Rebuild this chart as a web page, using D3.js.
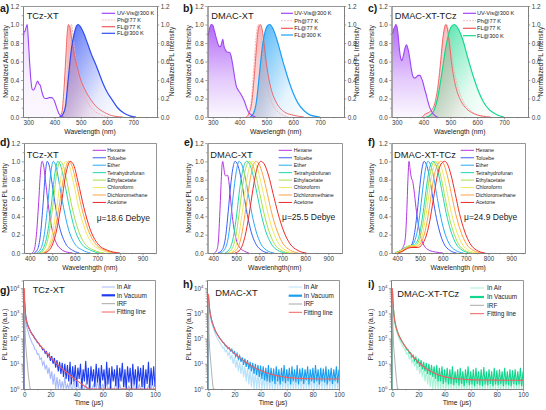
<!DOCTYPE html>
<html>
<head>
<meta charset="utf-8">
<script src="https://cdn.jsdelivr.net/npm/d3@7"></script>
<style>
  body { margin: 0; background: #fff; }
</style>
</head>
<body>
<script>
const FONT = '"Liberation Sans", Arial, Helvetica, sans-serif';
const AXIS = '#7a7a7a', TICK = '#3a3a3a', INK = '#1a1a1a';

// ---------- row 1: absorption / emission spectra ([nm, normalized])
const specTicks = [300, 400, 500, 600, 700];
const specMinor = [350, 450, 550, 650, 750];
const normTicks = [0, 0.2, 0.4, 0.6, 0.8, 1.0, 1.2];
const normMinor = [0.1, 0.3, 0.5, 0.7, 0.9, 1.1];
const specLegend = ['UV-Vis@300 K', 'Ph@77 K', 'FL@77 K', 'FL@300 K'];

const uvA = [[280,0.78],[284,0.92],[288,0.93],[292,0.97],[296,1.0],[300,0.85],[305,0.6],[310,0.4],[315,0.3],[320,0.29],[326,0.32],[332,0.37],[336,0.39],[340,0.36],[346,0.34],[352,0.27],[358,0.22],[364,0.2],[372,0.2],[380,0.21],[388,0.21],[394,0.2],[400,0.17],[406,0.12],[412,0.07],[418,0.03],[425,0.01],[435,0]];
const phA = [[430,0],[440,0.1],[448,0.45],[455,0.82],[461,0.98],[464,1.0],[470,0.9],[478,0.7],[488,0.5],[500,0.34],[515,0.22],[530,0.14],[550,0.07],[580,0.02],[610,0]];
const fl77A = [[418,0],[428,0.05],[436,0.3],[443,0.65],[448,0.9],[453,1.0],[458,0.97],[465,0.85],[475,0.68],[488,0.52],[500,0.4],[515,0.3],[535,0.2],[560,0.11],[590,0.05],[625,0.01],[660,0]];
const fl300A = [[420,0],[432,0.03],[442,0.12],[450,0.35],[457,0.55],[465,0.75],[475,0.9],[483,0.98],[490,1.0],[500,0.97],[512,0.9],[525,0.8],[540,0.68],[555,0.58],[570,0.47],[585,0.36],[600,0.27],[618,0.19],[640,0.1],[665,0.04],[690,0.01],[710,0]];

const uvB = [[282,0.88],[288,0.96],[294,1.0],[300,0.99],[306,0.93],[314,0.84],[322,0.77],[328,0.76],[333,0.8],[337,0.84],[342,0.76],[348,0.72],[355,0.7],[362,0.7],[368,0.66],[375,0.55],[382,0.42],[388,0.33],[395,0.29],[402,0.26],[410,0.22],[418,0.17],[425,0.11],[432,0.06],[440,0.03],[450,0.01],[460,0]];
const phB = [[425,0],[435,0.05],[445,0.22],[452,0.5],[460,0.82],[466,0.97],[470,1.0],[476,0.95],[484,0.78],[492,0.55],[502,0.36],[515,0.2],[530,0.1],[550,0.04],[580,0]];
const fl77B = [[425,0],[435,0.04],[445,0.15],[455,0.45],[463,0.75],[470,0.95],[477,1.0],[484,0.95],[492,0.78],[500,0.58],[510,0.4],[522,0.26],[535,0.17],[550,0.1],[570,0.05],[600,0.02],[640,0]];
const fl300B = [[440,0],[452,0.04],[462,0.15],[470,0.35],[478,0.58],[486,0.78],[495,0.92],[505,0.99],[513,1.0],[522,0.97],[532,0.9],[545,0.78],[558,0.64],[572,0.5],[586,0.37],[600,0.26],[618,0.15],[640,0.07],[665,0.02],[700,0]];

const uvC = [[284,0.9],[288,0.95],[292,0.97],[296,1.0],[300,0.98],[305,0.88],[310,0.72],[315,0.63],[319,0.61],[324,0.66],[330,0.74],[336,0.78],[342,0.73],[348,0.64],[354,0.52],[360,0.44],[366,0.42],[372,0.43],[380,0.45],[386,0.45],[392,0.42],[398,0.37],[404,0.3],[410,0.24],[416,0.17],[422,0.11],[430,0.06],[440,0.02],[452,0]];
const phC = [[420,0],[435,0.05],[450,0.2],[462,0.5],[472,0.82],[480,0.97],[486,1.0],[492,0.95],[500,0.8],[510,0.58],[520,0.42],[533,0.28],[548,0.17],[568,0.09],[595,0.03],[630,0]];
const fl77C = [[395,0],[405,0.03],[420,0.05],[432,0.08],[442,0.15],[452,0.3],[462,0.55],[470,0.8],[477,0.95],[483,1.0],[489,0.95],[497,0.78],[506,0.55],[516,0.38],[528,0.25],[542,0.16],[560,0.09],[585,0.04],[620,0.01],[650,0]];
const fl300C = [[410,0],[425,0.02],[440,0.08],[452,0.2],[462,0.36],[472,0.55],[482,0.74],[492,0.88],[502,0.97],[515,1.0],[526,0.97],[538,0.9],[550,0.8],[562,0.67],[575,0.54],[590,0.4],[606,0.27],[624,0.16],[645,0.08],[670,0.03],[700,0]];

// ---------- row 2: solvatochromic PL ([nm, normalized])
const solvTicks = [400, 500, 600, 700, 800, 900];
const solvMinor = [450, 550, 650, 750, 850, 950];
const solvents = ['Hexane', 'Toluebe', 'Ether', 'Tetrahydrofuran', 'Ethylacetate', 'Chloroform', 'Dichloromethane', 'Acetone'];
const solvColors = ['#b535e0', '#3b5cf7', '#2aa8f8', '#1fd6b0', '#a8e04a', '#efe85a', '#ffa040', '#f02828'];
const dipoles = ['μ=18.6 Debye', 'μ=25.5 Debye', 'μ=24.9 Debye'];

const hexD = [[410,0],[420,0.03],[430,0.2],[440,0.55],[448,0.88],[455,1.0],[462,0.95],[472,0.75],[485,0.48],[500,0.25],[520,0.1],[540,0.04],[565,0.01],[590,0]];
const tolD = [[420,0],[435,0.04],[448,0.2],[460,0.55],[470,0.88],[478,1.0],[487,0.95],[500,0.75],[515,0.5],[535,0.26],[560,0.1],[590,0.03],[620,0]];
const ethD = [[430,0],[450,0.05],[465,0.2],[480,0.52],[494,0.88],[505,1.0],[516,0.95],[532,0.75],[550,0.5],[572,0.26],[600,0.1],[635,0.03],[670,0]];
const thfD = [[440,0],[460,0.05],[478,0.2],[495,0.5],[512,0.87],[525,1.0],[538,0.95],[556,0.75],[576,0.5],[600,0.26],[630,0.1],[670,0.03],[710,0]];
const eaD = [[445,0],[465,0.04],[485,0.2],[502,0.5],[520,0.87],[535,1.0],[548,0.96],[566,0.77],[588,0.5],[614,0.26],[645,0.1],[685,0.03],[730,0]];
const chlD = [[455,0],[480,0.05],[500,0.2],[520,0.5],[543,0.88],[560,1.0],[574,0.96],[594,0.77],[617,0.5],[645,0.26],[678,0.1],[720,0.03],[765,0]];
const dcmD = [[460,0],[485,0.05],[508,0.2],[530,0.5],[555,0.88],[572,1.0],[586,0.96],[606,0.77],[630,0.5],[658,0.26],[692,0.1],[735,0.03],[780,0]];
const aceD = [[465,0],[490,0.04],[515,0.2],[538,0.5],[562,0.88],[580,1.0],[595,0.96],[615,0.77],[640,0.5],[668,0.26],[702,0.1],[745,0.03],[800,0]];

const hexE = [[405,0],[415,0.03],[422,0.12],[428,0.4],[434,0.75],[438,0.95],[441,1.0],[445,0.95],[450,0.86],[455,0.84],[462,0.85],[468,0.78],[475,0.6],[483,0.4],[492,0.24],[503,0.12],[518,0.05],[535,0.02],[555,0]];
const tolE = [[420,0],[440,0.04],[455,0.2],[465,0.45],[475,0.72],[485,0.92],[495,1.0],[505,0.97],[518,0.85],[532,0.65],[548,0.42],[565,0.23],[585,0.1],[610,0.03],[640,0]];
const ethE = [[430,0],[450,0.04],[466,0.18],[478,0.42],[490,0.7],[501,0.9],[512,1.0],[523,0.97],[537,0.85],[552,0.65],[568,0.43],[586,0.24],[607,0.1],[632,0.03],[665,0]];
const thfE = [[450,0],[470,0.04],[488,0.18],[502,0.42],[515,0.7],[530,0.92],[545,1.0],[558,0.97],[573,0.85],[590,0.65],[608,0.43],[628,0.24],[652,0.1],[680,0.03],[715,0]];
const eaE = [[460,0],[480,0.04],[498,0.18],[512,0.42],[526,0.7],[541,0.92],[556,1.0],[569,0.97],[585,0.85],[602,0.65],[621,0.43],[642,0.24],[666,0.1],[695,0.03],[730,0]];
const chlE = [[470,0],[492,0.04],[510,0.18],[525,0.42],[540,0.7],[555,0.92],[570,1.0],[584,0.97],[600,0.85],[618,0.65],[638,0.43],[660,0.24],[685,0.1],[715,0.03],[750,0]];
const dcmE = [[480,0],[503,0.04],[522,0.18],[538,0.42],[554,0.7],[570,0.92],[585,1.0],[599,0.97],[616,0.85],[635,0.65],[655,0.43],[678,0.24],[704,0.1],[735,0.03],[770,0]];
const aceE = [[495,0],[518,0.04],[538,0.18],[556,0.42],[573,0.7],[590,0.92],[607,1.0],[622,0.97],[640,0.85],[660,0.65],[682,0.43],[706,0.24],[734,0.1],[766,0.03],[805,0]];

const hexF = [[395,0],[410,0.02],[425,0.06],[435,0.15],[442,0.45],[447,0.8],[452,1.0],[456,0.92],[462,0.82],[468,0.78],[474,0.68],[482,0.5],[492,0.32],[503,0.18],[518,0.08],[540,0.03],[570,0.01],[600,0]];
const tolF = [[390,0],[410,0.02],[430,0.05],[450,0.07],[465,0.1],[478,0.25],[490,0.5],[500,0.75],[510,0.94],[518,1.0],[527,0.97],[540,0.85],[553,0.65],[568,0.43],[585,0.24],[605,0.1],[630,0.03],[660,0]];
const ethF = [[390,0],[410,0.02],[430,0.05],[452,0.07],[470,0.1],[488,0.24],[502,0.48],[514,0.74],[525,0.93],[535,1.0],[545,0.97],[558,0.85],[572,0.65],[588,0.43],[606,0.24],[628,0.1],[655,0.03],[690,0]];
const thfF = [[390,0],[410,0.02],[430,0.05],[455,0.08],[475,0.09],[495,0.18],[510,0.38],[523,0.62],[536,0.85],[547,0.97],[557,1.0],[568,0.97],[582,0.85],[598,0.65],[615,0.43],[635,0.24],[658,0.1],[685,0.03],[720,0]];
const eaF = [[390,0],[410,0.02],[430,0.05],[455,0.08],[478,0.08],[500,0.17],[516,0.37],[530,0.62],[543,0.85],[555,0.97],[565,1.0],[576,0.97],[590,0.85],[606,0.65],[624,0.43],[645,0.24],[668,0.1],[695,0.03],[730,0]];
const chlF = [[395,0],[415,0.02],[435,0.05],[458,0.08],[482,0.08],[505,0.15],[522,0.35],[537,0.6],[551,0.84],[565,0.97],[577,1.0],[588,0.97],[603,0.85],[620,0.65],[638,0.43],[660,0.24],[684,0.1],[712,0.03],[750,0]];
const dcmF = [[400,0],[420,0.02],[440,0.05],[462,0.07],[485,0.07],[510,0.14],[530,0.33],[546,0.58],[561,0.83],[578,0.97],[592,1.0],[604,0.97],[619,0.85],[637,0.65],[656,0.43],[678,0.24],[703,0.1],[732,0.03],[770,0]];
const aceF = [[405,0],[425,0.02],[445,0.05],[465,0.06],[490,0.06],[520,0.14],[542,0.34],[558,0.58],[574,0.82],[592,0.97],[608,1.0],[620,0.97],[636,0.85],[654,0.65],[673,0.43],[695,0.24],[720,0.1],[748,0.03],[785,0]];

// ---------- row 3: transient decay (time in us, counts)
const timeTicks = [0, 20, 40, 60, 80, 100];
const timeMinor = [10, 30, 50, 70, 90];
const decayTicks = [1, 10, 100, 1000, 10000];
const decayLegend = ['In Air', 'In Vacuum', 'IRF', 'Fitting line'];

const decayT = [0, 0.2, 0.5, 1, 1.5, 2,
  3, 4, 5, 6, 7, 8, 9, 10,
  11, 12, 13, 14, 15, 16, 17, 18, 19, 20,
  21, 22, 23, 24, 25, 26, 27, 28, 29, 30,
  31, 32, 33, 34, 35, 36, 37, 38, 39, 40,
  41, 42, 43, 44, 45, 46, 47, 48, 49, 50,
  51, 52, 53, 54, 55, 56, 57, 58, 59, 60,
  61, 62, 63, 64, 65, 66, 67, 68, 69, 70,
  71, 72, 73, 74, 75, 76, 77, 78, 79, 80,
  81, 82, 83, 84, 85, 86, 87, 88, 89, 90,
  91, 92, 93, 94, 95, 96, 97, 98, 99, 100];

const vacG = [1, 3000, 1800, 850, 560, 430,
  300, 235, 180, 150, 128, 100, 90, 70,
  66, 50, 48, 36, 38, 26, 30, 19, 25, 13,
  20, 10, 17, 7, 14, 5, 12, 4, 11, 3,
  10, 2.5, 9, 2, 12, 1.5, 8, 2, 9, 1.2,
  7, 2.5, 10, 1, 6, 2, 13, 1.5, 7, 1,
  8, 2, 6, 1.2, 10, 1.8, 7, 1, 9, 2.2,
  6, 1, 12, 1.5, 7, 1, 8, 2, 6, 1.3,
  9, 1, 7, 2, 11, 1.2, 6, 1, 8, 1.8,
  7, 1, 10, 1.5, 6, 1, 8, 2, 7, 1.2,
  9, 1, 6, 1.6, 12, 1, 7, 1.4, 8, 1.2];
const airG = [1, 2500, 1300, 600, 380, 280,
  180, 120, 90, 65, 55, 38, 35, 24,
  25, 15, 17, 9, 12, 6, 9, 4, 7, 2.5,
  5, 1.5, 4, 1, 3, 1, 2.5, 1, 2, 1,
  3, 1, 1.5, 1, 2, 1, 1, 2.5, 1, 1,
  1.8, 1, 1, 2, 1, 1, 1.5, 1, 1, 2,
  1, 1, 1.5, 1, 1, 2.2, 1, 1, 1, 1.6,
  1, 1, 2, 1, 1, 1.4, 1, 1, 1, 2,
  1, 1, 1.5, 1, 1, 1, 2.5, 1, 1, 1.3,
  1, 1, 1, 1.8, 1, 1, 1, 1.5, 1, 1,
  2, 1, 1, 1, 1.4, 1, 1, 1.8, 1, 1];

const vacH = [1, 5000, 2800, 1500, 1000, 700,
  440, 310, 230, 175, 145, 120, 100, 88,
  72, 66, 52, 50, 40, 44, 32, 38, 26, 30,
  19, 26, 15, 21, 12, 18, 9, 16, 7.5, 14,
  6, 12, 5, 11, 4, 10, 3.5, 9, 3, 8.5,
  2.5, 8, 2.2, 7, 2, 9, 1.8, 7, 2, 6.5,
  1.6, 8, 2, 6, 1.5, 7, 2, 9, 1.7, 6,
  2, 7, 1.5, 8, 2, 6, 1.8, 9, 1.5, 6.5,
  2, 7, 1.6, 6, 2.2, 8, 1.5, 6, 2, 7,
  1.7, 9, 2, 6, 1.5, 7, 2, 6.5, 1.8, 8,
  1.5, 6, 2, 7, 1.6, 6, 2, 8, 1.7, 6];
const airH = [1, 4500, 2400, 1200, 800, 560,
  340, 240, 170, 130, 100, 82, 66, 56,
  42, 44, 30, 34, 22, 28, 15, 22, 10, 18,
  7, 14, 5, 12, 4, 10, 3, 8, 2, 7,
  1.5, 6, 1.2, 5, 1, 5, 1, 4, 1, 4.5,
  1, 3, 1, 4, 1, 3.5, 1, 3, 1, 4,
  1, 2.5, 1, 3.5, 1, 3, 1, 4, 1, 2.5,
  1, 3, 1, 3.5, 1, 2.5, 1, 4, 1, 3,
  1, 2.5, 1, 3.5, 1, 3, 1, 2.5, 1, 4,
  1, 3, 1, 2.5, 1, 3.5, 1, 3, 1, 2.5,
  1, 3.5, 1, 3, 1, 2.5, 1, 3, 1, 2.5];

const vacI = [1, 8000, 3200, 1300, 720, 460,
  270, 185, 135, 105, 82, 68, 55, 48,
  36, 36, 26, 28, 18, 22, 13, 18, 10, 16,
  7.5, 14, 6, 12, 5, 11, 4, 10, 3.5, 9,
  3, 8, 2.5, 9, 2, 7, 2, 8, 1.6, 6,
  1.8, 7, 1.5, 6, 1.6, 8, 1.4, 5, 1.7, 6,
  1.4, 7, 1.6, 5, 1.3, 6, 1.7, 8, 1.4, 5,
  1.5, 6, 1.3, 7, 1.6, 5, 1.4, 6, 1.3, 7.5,
  1.5, 5, 1.4, 6, 1.6, 5, 1.3, 7, 1.5, 5.5,
  1.4, 6, 1.6, 5, 1.3, 7, 1.5, 5, 1.4, 6,
  1.3, 5.5, 1.6, 6, 1.4, 5, 1.5, 7, 1.3, 5];
const airI = [1, 7000, 2800, 1100, 600, 380,
  220, 150, 105, 80, 62, 50, 40, 34,
  24, 26, 16, 20, 11, 15, 8, 12, 5.5, 10,
  4, 8, 3, 7, 2, 6, 1.5, 5, 1.2, 4.5,
  1, 4, 1, 3.5, 1, 4, 1, 3, 1, 3.5,
  1, 2.5, 1, 3, 1, 2.5, 1, 3.5, 1, 2.5,
  1, 3, 1, 2.5, 1, 3.5, 1, 2.5, 1, 3,
  1, 2.5, 1, 3, 1, 2.5, 1, 3.5, 1, 2.5,
  1, 3, 1, 2.5, 1, 3, 1, 2.5, 1, 3.5,
  1, 2.5, 1, 3, 1, 2.5, 1, 3, 1, 2.5,
  1, 3, 1, 2.5, 1, 3.5, 1, 2.5, 1, 3];

const irfT = [0, 0.2, 0.5, 1, 1.5, 2, 2.5, 3, 3.5, 4, 4.5, 5];
const irfG = [1, 8000, 400, 60, 30, 15, 8, 4, 2.5, 1.5, 1, 1];
const irfH = [1, 3000, 150, 40, 20, 10, 5, 2.5, 1.3, 1, 1, 1];
const irfI = [1, 6000, 300, 50, 25, 12, 6, 3, 1.6, 1, 1, 1];

const fitT = [0, 0.2, 0.5, 1, 1.5, 2, 3, 4, 5, 6, 8, 10, 12, 15, 18, 20, 25, 30, 35, 40, 45, 50, 55, 60, 70, 80, 90, 100];
const fitG = [10000, 3500, 1500, 800, 560, 430, 300, 230, 180, 148, 105, 75, 55, 36, 24, 18, 10, 5.8, 3.5, 2.2, 1.45, 1.0, 0.72, 0.5, 0.3, 0.2, 0.15, 0.1];
const fitH = [6000, 4200, 2600, 1450, 980, 720, 440, 310, 230, 176, 118, 85, 64, 44, 32, 26, 16, 10.5, 7.2, 5.4, 4.3, 3.6, 3.2, 2.9, 2.65, 2.55, 2.5, 2.5];
const fitI = [10000, 5000, 2700, 1250, 720, 470, 270, 185, 135, 105, 70, 48, 35, 22, 14.5, 11.5, 7, 4.8, 3.7, 3.1, 2.75, 2.55, 2.42, 2.35, 2.28, 2.24, 2.22, 2.2];

// ---------------------------------------------------------------
const svg = d3.select('body').append('svg')
    .attr('width', 546)
    .attr('height', 410)
    .style('font-family', FONT);
const defs = svg.append('defs');

function addGrad(id, color, x2, y2, stops) {
  const gr = defs.append('linearGradient').attr('id', id)
      .attr('x1', 0).attr('y1', 0).attr('x2', x2).attr('y2', y2);
  stops.forEach(s => {
    gr.append('stop').attr('offset', s[0]).attr('stop-color', color).attr('stop-opacity', s[1]);
  });
}

function addClip(id, x, y) {
  const r = y.range();
  defs.append('clipPath').attr('id', id).append('rect')
      .attr('x', x.range()[0]).attr('y', r[1])
      .attr('width', x.range()[1] - x.range()[0])
      .attr('height', r[0] - r[1]);
}

function styleAxis(sel, fs) {
  sel.attr('font-family', FONT).attr('font-size', fs);
  sel.select('.domain').attr('stroke', AXIS).attr('stroke-width', 0.8);
  sel.selectAll('.tick line').attr('stroke', AXIS).attr('stroke-width', 0.7);
  sel.selectAll('.tick text').attr('fill', TICK);
}

function label(x, y, txt, size, opts = {}) {
  const t = svg.append('text')
      .attr('x', x).attr('y', y)
      .attr('font-size', size)
      .attr('fill', opts.fill || INK)
      .attr('text-anchor', opts.anchor || 'start')
      .text(txt);
  if (opts.bold) t.attr('font-weight', 'bold');
  if (opts.rotate) t.attr('transform', `rotate(${opts.rotate},${x},${y})`);
  return t;
}

function drawFrame(x, y, o) {
  const g = svg.append('g');
  const [x0, x1] = x.range();
  const [yb, yt] = y.range();

  g.append('g').attr('transform', `translate(0,${yb})`)
      .call(d3.axisBottom(x).tickValues(o.xMinor).tickSize(1.3).tickSizeOuter(0).tickFormat(''))
      .call(s => styleAxis(s, 6.3));
  g.append('g').attr('transform', `translate(0,${yb})`)
      .call(d3.axisBottom(x).tickValues(o.xTicks).tickSize(2.2).tickSizeOuter(0).tickPadding(1.5))
      .call(s => styleAxis(s, 6.3));

  g.append('g').attr('transform', `translate(${x0},0)`)
      .call(d3.axisLeft(y).tickValues(o.yMinor).tickSize(1.3).tickSizeOuter(0).tickFormat(''))
      .call(s => styleAxis(s, 6.3));
  const left = g.append('g').attr('transform', `translate(${x0},0)`)
      .call(d3.axisLeft(y).tickValues(o.yTicks).tickSize(2.2).tickSizeOuter(0).tickPadding(1.5).tickFormat(o.yFmt))
      .call(s => styleAxis(s, 6.3));
  if (o.sup) {
    left.selectAll('.tick text').each(function (d) {
      const t = d3.select(this);
      t.text('10');
      t.append('tspan').attr('dy', -2.6).attr('font-size', 4.3).text(Math.round(Math.log10(d)));
    });
  }

  g.append('g').attr('transform', `translate(0,${yt})`)
      .call(d3.axisTop(x).tickValues([]).tickSizeOuter(0))
      .call(s => styleAxis(s, 6.3));
  if (o.right) {
    g.append('g').attr('transform', `translate(${x1},0)`)
        .call(d3.axisRight(y).tickValues(o.yMinor).tickSize(1.3).tickSizeOuter(0).tickFormat(''))
        .call(s => styleAxis(s, 6.3));
    g.append('g').attr('transform', `translate(${x1},0)`)
        .call(d3.axisRight(y).tickValues(o.yTicks).tickSize(2.2).tickSizeOuter(0).tickPadding(1.5).tickFormat(o.yFmt))
        .call(s => styleAxis(s, 6.3));
  } else {
    g.append('g').attr('transform', `translate(${x1},0)`)
        .call(d3.axisRight(y).tickValues([]).tickSizeOuter(0))
        .call(s => styleAxis(s, 6.3));
  }

  const xc = (x0 + x1) / 2, yc = (yb + yt) / 2;
  label(xc, o.xTitleY, o.xTitle, 6.8, { anchor: 'middle' });
  label(o.yTitleX, yc, o.yTitle, 6.6, { anchor: 'middle', rotate: -90 });
  if (o.rTitle) label(o.rTitleX, yc, o.rTitle, 6.6, { anchor: 'middle', rotate: -90 });
}

// ---------- row 1
const specPanels = [
  { key: 'a', x0: 23, x1: 157, title: 'TCz-XT', tx: 26.7, lab: [0, 11.5], yT: 6, rT: 172,
    uv: uvA, ph: phA, fl77: fl77A, fl300: fl300A, c300: '#2e4df2', uvTop: 0.22,
    lg: { x0: 101.7, x1: 115, tx: 117, ys: [13.3, 20, 26.7, 33.3] } },
  { key: 'b', x0: 207.5, x1: 344, title: 'DMAC-XT', tx: 211.3, lab: [183, 11.5], yT: 189, rT: 357,
    uv: uvB, ph: phB, fl77: fl77B, fl300: fl300B, c300: '#1c9ff5', uvTop: 0.8,
    lg: { x0: 281, x1: 293, tx: 294.3, ys: [13.3, 20.7, 28.3, 35] } },
  { key: 'c', x0: 391.5, x1: 528, title: 'DMAC-XT-TCz', tx: 394.7, lab: [368, 11.5], yT: 372, rT: 540.7,
    uv: uvC, ph: phC, fl77: fl77C, fl300: fl300C, c300: '#14d98c', uvTop: 0.8,
    lg: { x0: 463, x1: 476, tx: 477, ys: [13.3, 20.7, 28.3, 35.7] } }
];

const UV = '#a045f5', PH = '#f6a9a9', FL77 = '#f25a5a';

specPanels.forEach(p => {
  const x = d3.scaleLinear().domain([280, 790]).range([p.x0, p.x1]);
  const y = d3.scaleLinear().domain([0, 1.2]).range([117, 6]);
  addClip('clip-' + p.key, x, y);
  addGrad('uv-' + p.key, UV, 0, 1, [[0, p.uvTop], [0.6, p.uvTop * 0.35], [1, 0.04]]);
  addGrad('ph-' + p.key, PH, 1, 0.7, [[0, 0.45], [0.4, 0.15], [1, 0]]);
  addGrad('f77-' + p.key, FL77, 1, 0.7, [[0, 0.55], [0.4, 0.2], [1, 0]]);
  addGrad('f300-' + p.key, p.c300, 1, 0.7, [[0, 0.9], [0.3, 0.55], [0.7, 0.12], [1, 0]]);

  const line = d3.line().x(d => x(d[0])).y(d => y(d[1])).curve(d3.curveMonotoneX);
  const area = d3.area().x(d => x(d[0])).y0(y(0)).y1(d => y(d[1])).curve(d3.curveMonotoneX);
  const g = svg.append('g').attr('clip-path', `url(#clip-${p.key})`);

  g.append('path').attr('d', area(p.uv)).attr('fill', `url(#uv-${p.key})`);
  g.append('path').attr('d', area(p.fl300)).attr('fill', `url(#f300-${p.key})`);
  g.append('path').attr('d', area(p.fl77)).attr('fill', `url(#f77-${p.key})`);
  g.append('path').attr('d', area(p.ph)).attr('fill', `url(#ph-${p.key})`);

  g.append('path').attr('d', line(p.ph)).attr('fill', 'none').attr('stroke', PH).attr('stroke-width', 0.8).attr('stroke-dasharray', '2,1');
  g.append('path').attr('d', line(p.fl77)).attr('fill', 'none').attr('stroke', FL77).attr('stroke-width', 0.9);
  g.append('path').attr('d', line(p.fl300)).attr('fill', 'none').attr('stroke', p.c300).attr('stroke-width', 1.2);
  g.append('path').attr('d', line(p.uv)).attr('fill', 'none').attr('stroke', UV).attr('stroke-width', 1.1);

  drawFrame(x, y, {
    xTicks: specTicks, xMinor: specMinor, yTicks: normTicks, yMinor: normMinor,
    yFmt: d3.format('.1f'), right: true,
    xTitle: 'Wavelength (nm)', xTitleY: 133.5,
    yTitle: 'Normalized Abs Intensity', yTitleX: p.yT + 2.3,
    rTitle: 'Normalized PL Intensity', rTitleX: p.rT + 2.3
  });

  const lcol = [UV, PH, FL77, p.c300];
  specLegend.forEach((name, i) => {
    const ly = p.lg.ys[i];
    svg.append('line').attr('x1', p.lg.x0).attr('x2', p.lg.x1).attr('y1', ly).attr('y2', ly)
        .attr('stroke', lcol[i]).attr('stroke-width', i === 1 ? 0.8 : 1.2)
        .attr('stroke-dasharray', i === 1 ? '2,1' : null);
    label(p.lg.tx, ly + 2, name, 5.6);
  });
  label(p.tx, 18.8, p.title, 9.3);
  label(p.lab[0], p.lab[1], p.key + ')', 10.5, { bold: true });
});

// ---------- row 2
const solvPanels = [
  { key: 'd', x0: 24, x1: 156, title: 'TCz-XT', tx: 26.7, lab: [0, 145.5], yT: 5, xt: 'Wavelenhgth (nm)',
    curves: [hexD, tolD, ethD, thfD, eaD, chlD, dcmD, aceD], mu: [96.7, 220.5],
    lg: { x0: 92.7, x1: 106, tx: 107.3 } },
  { key: 'e', x0: 207.5, x1: 342, title: 'DMAC-XT', tx: 210.3, lab: [184, 146], yT: 189, xt: 'Wavelenhgth(nm)',
    curves: [hexE, tolE, ethE, thfE, eaE, chlE, dcmE, aceE], mu: [282, 220],
    lg: { x0: 278.7, x1: 292, tx: 293.7 } },
  { key: 'f', x0: 391.5, x1: 525, title: 'DMAC-XT-TCz', tx: 394, lab: [368, 145.5], yT: 372, xt: 'Wavelenhgth (nm)',
    curves: [hexF, tolF, ethF, thfF, eaF, chlF, dcmF, aceF], mu: [464, 220],
    lg: { x0: 460.7, x1: 474, tx: 475.7 } }
];

solvPanels.forEach((p, pi) => {
  const x = d3.scaleLinear().domain([375, 960]).range([p.x0, p.x1]);
  const y = d3.scaleLinear().domain([0, 1.2]).range([253, 143]);
  addClip('clip-' + p.key, x, y);
  const line = d3.line().x(d => x(d[0])).y(d => y(d[1])).curve(d3.curveMonotoneX);
  const g = svg.append('g').attr('clip-path', `url(#clip-${p.key})`);
  p.curves.forEach((c, i) => {
    g.append('path').attr('d', line(c)).attr('fill', 'none')
        .attr('stroke', solvColors[i]).attr('stroke-width', 1.0);
  });
  drawFrame(x, y, {
    xTicks: solvTicks, xMinor: solvMinor, yTicks: normTicks, yMinor: normMinor,
    yFmt: d3.format('.1f'), right: false,
    xTitle: p.xt, xTitleY: 270,
    yTitle: 'Normalized PL Intensity', yTitleX: p.yT + 2.3
  });
  solvents.forEach((name, i) => {
    const ly = 150.3 + i * 7.45;
    svg.append('line').attr('x1', p.lg.x0).attr('x2', p.lg.x1).attr('y1', ly).attr('y2', ly)
        .attr('stroke', solvColors[i]).attr('stroke-width', 1.0);
    label(p.lg.tx, ly + 1.9, name, 5.3);
  });
  label(p.mu[0], p.mu[1], dipoles[pi], 8.5);
  label(p.tx, 157.7, p.title, 9.3);
  label(p.lab[0], p.lab[1], p.key + ')', 10.5, { bold: true });
});

// ---------- row 3
const decayPanels = [
  { key: 'g', x0: 23, x1: 155, title: 'TCz-XT', tx: 32.7, ty: 293, lab: [0, 294], yT: 5,
    vac: vacG, air: airG, irf: irfG, fit: fitG, cv: '#1e3cf0', ca: '#a9bafb',
    lg: { x0: 101.7, x1: 115, tx: 116.7, ys: [287, 295.3, 303.7, 312] } },
  { key: 'h', x0: 207, x1: 339, title: 'DMAC-XT', tx: 215.3, ty: 296, lab: [183, 287.5], yT: 189,
    vac: vacH, air: airH, irf: irfH, fit: fitH, cv: '#1a9ef0', ca: '#b6e2fb',
    lg: { x0: 288.7, x1: 302, tx: 303.7, ys: [287, 295.7, 304, 312.3] } },
  { key: 'i', x0: 391, x1: 523, title: 'DMAC-XT-TCz', tx: 397.3, ty: 297, lab: [368, 288], yT: 371,
    vac: vacI, air: airI, irf: irfI, fit: fitI, cv: '#12d68e', ca: '#a6f3d6',
    lg: { x0: 470, x1: 484, tx: 487, ys: [288, 297, 305.3, 313.7] } }
];
const IRF = '#a8a8a8', FIT = '#f06060';

decayPanels.forEach(p => {
  const x = d3.scaleLinear().domain([-1, 100]).range([p.x0, p.x1]);
  const y = d3.scaleLog().domain([1, 21000]).range([389, 280]).clamp(true);
  addClip('clip-' + p.key, x, y);
  const g = svg.append('g').attr('clip-path', `url(#clip-${p.key})`);
  const line = d3.line().x(d => x(d[0])).y(d => y(d[1]));
  const zip = (t, v) => t.slice(0, v.length).map((tt, i) => [tt, v[i]]);

  g.append('path').attr('d', line(zip(decayT, p.air))).attr('fill', 'none').attr('stroke', p.ca).attr('stroke-width', 1.1);
  g.append('path').attr('d', line(zip(decayT, p.vac))).attr('fill', 'none').attr('stroke', p.cv).attr('stroke-width', 1.1);
  g.append('path').attr('d', line(zip(irfT, p.irf))).attr('fill', 'none').attr('stroke', IRF).attr('stroke-width', 0.9);
  g.append('path').attr('d', line.curve(d3.curveMonotoneX)(zip(fitT, p.fit))).attr('fill', 'none').attr('stroke', FIT).attr('stroke-width', 1.1);

  const minor = y.ticks().filter(v => !decayTicks.includes(v));
  drawFrame(x, y, {
    xTicks: timeTicks, xMinor: timeMinor, yTicks: decayTicks, yMinor: minor,
    yFmt: d3.format('d'), right: false, sup: true,
    xTitle: 'Time (μs)', xTitleY: 404.5,
    yTitle: 'PL Intensity (a.u.)', yTitleX: p.yT + 2.3
  });

  const lcol = [p.ca, p.cv, IRF, FIT];
  decayLegend.forEach((name, i) => {
    const ly = p.lg.ys[i];
    svg.append('line').attr('x1', p.lg.x0).attr('x2', p.lg.x1).attr('y1', ly).attr('y2', ly)
        .attr('stroke', lcol[i]).attr('stroke-width', i === 1 ? 2.2 : 1.0);
    label(p.lg.tx, ly + 2.3, name, 6.4);
  });
  label(p.tx, p.ty, p.title, 9.3);
  label(p.lab[0], p.lab[1], p.key + ')', 10.5, { bold: true });
});
</script>
</body>
</html>
